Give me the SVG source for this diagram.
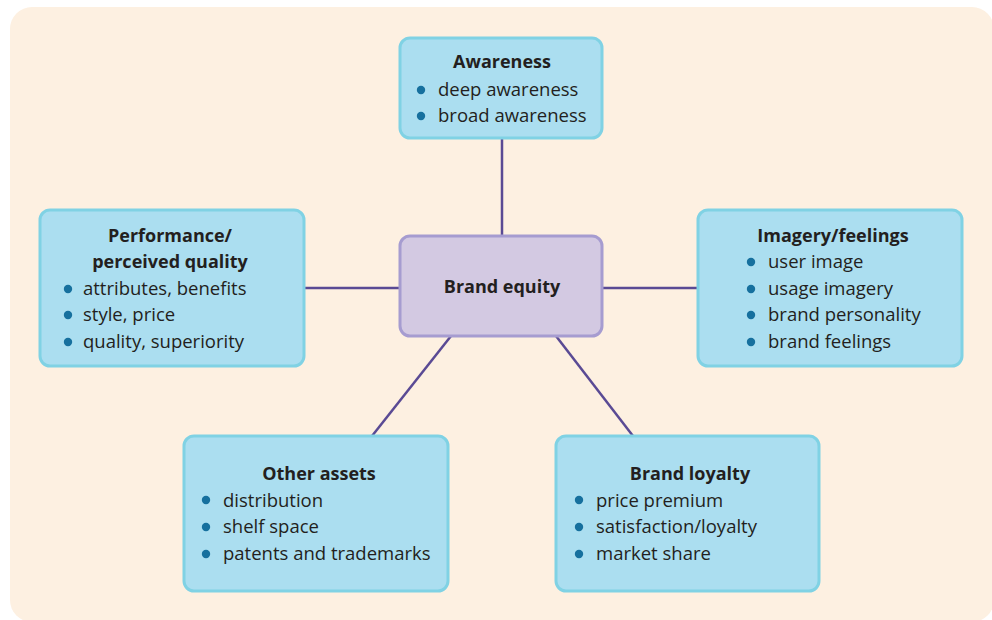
<svg xmlns="http://www.w3.org/2000/svg" width="992" height="620" viewBox="0 0 992 620">
<style>
.bg{fill:#fdf0e1}
.box{fill:#abdef0;stroke:#80d2e4;stroke-width:3}
.core{fill:#d3c9e2;stroke:#a69cd0;stroke-width:3}
.t{font-family:"Open Sans","Liberation Sans",sans-serif;font-size:18px;font-weight:bold;fill:#231f20;text-anchor:middle}
.b{font-family:"Open Sans","Liberation Sans",sans-serif;font-size:18.5px;fill:#231f20}
.dot{fill:#16709e}
.con line{stroke:#5a4a94;stroke-width:2.5}
</style>
<rect class="bg" x="10" y="7" width="984" height="615" rx="22"/>
<g class="con">
<line x1="502" y1="139" x2="502" y2="236"/>
<line x1="304" y1="288" x2="400" y2="288"/>
<line x1="602" y1="288" x2="698" y2="288"/>
<line x1="451" y1="336" x2="372" y2="436"/>
<line x1="556" y1="336" x2="633" y2="436"/>
</g>
<g id="awareness">
<rect class="box" x="400" y="38" width="202" height="100" rx="10"/>
<text class="t" x="502" y="68">Awareness</text>
<circle class="dot" cx="421" cy="90" r="4.2"/>
<text class="b" x="438" y="96">deep awareness</text>
<circle class="dot" cx="421" cy="116" r="4.2"/>
<text class="b" x="438" y="122">broad awareness</text>
</g>
<g id="performance">
<rect class="box" x="40" y="210" width="264" height="156" rx="10"/>
<text class="t" x="170" y="242">Performance/</text>
<text class="t" x="170" y="268">perceived quality</text>
<circle class="dot" cx="68" cy="289" r="4.2"/>
<text class="b" x="83" y="295">attributes, benefits</text>
<circle class="dot" cx="68" cy="315" r="4.2"/>
<text class="b" x="83" y="321">style, price</text>
<circle class="dot" cx="68" cy="342" r="4.2"/>
<text class="b" x="83" y="348">quality, superiority</text>
</g>
<g id="brand-equity">
<rect class="core" x="400" y="236" width="202" height="100" rx="10"/>
<text class="t" x="502" y="293">Brand equity</text>
</g>
<g id="imagery">
<rect class="box" x="698" y="210" width="264" height="156" rx="10"/>
<text class="t" x="833" y="242">Imagery/feelings</text>
<circle class="dot" cx="751" cy="262" r="4.2"/>
<text class="b" x="768" y="268">user image</text>
<circle class="dot" cx="751" cy="289" r="4.2"/>
<text class="b" x="768" y="295">usage imagery</text>
<circle class="dot" cx="751" cy="315" r="4.2"/>
<text class="b" x="768" y="321">brand personality</text>
<circle class="dot" cx="751" cy="342" r="4.2"/>
<text class="b" x="768" y="348">brand feelings</text>
</g>
<g id="other-assets">
<rect class="box" x="184" y="436" width="264" height="155" rx="10"/>
<text class="t" x="319" y="480">Other assets</text>
<circle class="dot" cx="206" cy="500" r="4.2"/>
<text class="b" x="223" y="507">distribution</text>
<circle class="dot" cx="206" cy="527" r="4.2"/>
<text class="b" x="223" y="533">shelf space</text>
<circle class="dot" cx="206" cy="554" r="4.2"/>
<text class="b" x="223" y="560">patents and trademarks</text>
</g>
<g id="brand-loyalty">
<rect class="box" x="556" y="436" width="263" height="155" rx="10"/>
<text class="t" x="690" y="480">Brand loyalty</text>
<circle class="dot" cx="579" cy="500" r="4.2"/>
<text class="b" x="596" y="507">price premium</text>
<circle class="dot" cx="579" cy="527" r="4.2"/>
<text class="b" x="596" y="533">satisfaction/loyalty</text>
<circle class="dot" cx="579" cy="554" r="4.2"/>
<text class="b" x="596" y="560">market share</text>
</g>
</svg>
